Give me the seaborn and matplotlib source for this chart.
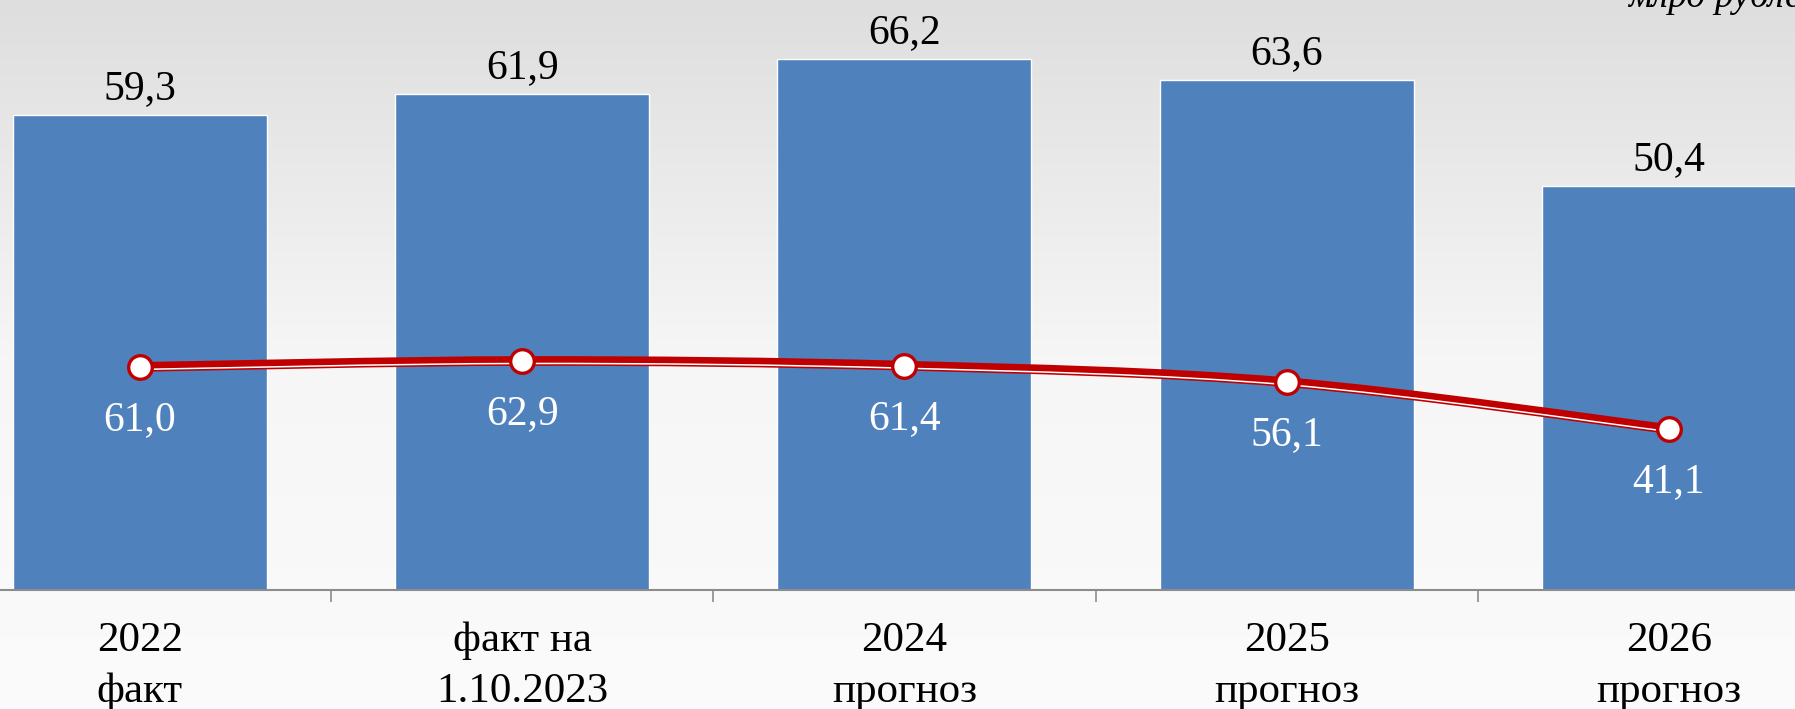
import numpy as np
import matplotlib
matplotlib.use("Agg")
import matplotlib.pyplot as plt
import matplotlib.patheffects as pe
from matplotlib.path import Path
from matplotlib.patches import PathPatch
from matplotlib.colors import LinearSegmentedColormap
import seaborn as sns

categories = ["2022\nфакт", "факт на\n1.10.2023", "2024\nпрогноз", "2025\nпрогноз", "2026\nпрогноз"]
bar_values = [59.3, 61.9, 66.2, 63.6, 50.4]
line_values = [61.0, 62.9, 61.4, 56.1, 41.1]
unit_label = "млрд рублей"

sns.set_theme(style="white")
plt.rcParams['font.family'] = ['Liberation Serif', 'DejaVu Serif']

BLUE = "#4F81BD"
RED = "#C00000"
GRAY = "#8C8C8C"

W, H, DPI = 1795, 709, 100
fig = plt.figure(figsize=(W / DPI, H / DPI), dpi=DPI)

# background gradient
bg = fig.add_axes([0, 0, 1, 1], zorder=-5)
grad = np.linspace(0, 1, 256).reshape(-1, 1)
cmap = LinearSegmentedColormap.from_list("bg", ["#FBFBFB", "#F6F6F6", "#DEDEDE"])
bg.imshow(grad, aspect="auto", cmap=cmap, extent=[0, 1, 0, 1], origin="lower")
bg.axis("off")

axis_y = 590
ax = fig.add_axes([0, (H - axis_y) / H, 1, axis_y / H])
ax.patch.set_alpha(0)

sns.barplot(x=categories, y=bar_values, color=BLUE, saturation=1, width=0.665, ax=ax)
ax.set_xlim(-0.366, 4.33)
ax.set_ylim(0, 73.6)
ax.set_ylabel("")
ax.set_yticks([])
for s in ["top", "left", "right"]:
    ax.spines[s].set_visible(False)
ax.spines["bottom"].set_color(GRAY)
ax.spines["bottom"].set_linewidth(1.5)

ax.set_xticks(range(len(categories)))
ax.set_xticklabels(categories, fontsize=31)
ax.set_xticks([0.5, 1.5, 2.5, 3.5], minor=True)
ax.tick_params(axis="x", which="major", length=0, pad=23, colors="black")
ax.tick_params(axis="x", which="minor", length=8.5, width=1.2, color=GRAY, direction="out", bottom=True)
for lbl in ax.get_xticklabels():
    lbl.set_linespacing(1.42)

ax.bar_label(ax.containers[0], labels=[f"{v:.1f}".replace(".", ",") for v in bar_values],
             padding=5, fontsize=30, color="black")

# secondary axis for line
ax2 = ax.twinx()
ax2.set_ylim(-10.5, 178.6)
ax2.axis("off")

xs = np.arange(len(line_values), dtype=float)
ys = np.array(line_values, dtype=float)
pts = np.column_stack([xs, ys])
verts = [tuple(pts[0])]
codes = [Path.MOVETO]
n = len(pts)
for i in range(n - 1):
    p0 = pts[i - 1] if i > 0 else pts[i]
    p1 = pts[i]
    p2 = pts[i + 1]
    p3 = pts[i + 2] if i + 2 < n else pts[i + 1]
    c1 = p1 + (p2 - p0) / 6.0
    c2 = p2 - (p3 - p1) / 6.0
    verts += [tuple(c1), tuple(c2), tuple(p2)]
    codes += [Path.CURVE4, Path.CURVE4, Path.CURVE4]
patch = PathPatch(Path(verts, codes), facecolor="none", edgecolor=RED, lw=7,
                  transform=ax2.transData, zorder=3)
patch.set_path_effects([pe.Stroke(linewidth=7.0, foreground=RED),
                        pe.Stroke(linewidth=1.1, foreground="white", offset=(0, -1.8))])
ax2.add_patch(patch)

ax2.plot(xs, ys, linestyle="none", marker="o", markersize=17, markerfacecolor="white",
         markeredgecolor=RED, markeredgewidth=2.4, zorder=4)

for x, v in zip(xs, line_values):
    ax2.annotate(f"{v:.1f}".replace(".", ","), (x, v), xytext=(0, -38),
                 textcoords="offset points", ha="center", va="center",
                 fontsize=30, color="white", zorder=5)

fig.text(1628 / W, 1 - 7 / H, unit_label, fontsize=27, style="italic", ha="left",
         va="baseline", color="black")

fig.savefig("out.png", dpi=DPI)
